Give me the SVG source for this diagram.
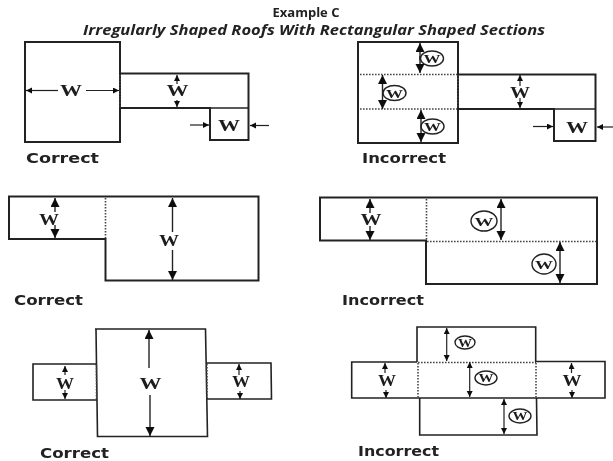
<svg xmlns="http://www.w3.org/2000/svg" width="613" height="461" viewBox="0 0 613 461">
<style>
.bg{fill:#fff}
.o{fill:none;stroke:#222;stroke-width:2;stroke-linejoin:miter}
.t{fill:none;stroke:#222;stroke-width:1.6}
.d{fill:none;stroke:#444;stroke-width:1.6;stroke-dasharray:1.6 1.4}
.a{fill:none;stroke:#222;stroke-width:1.4;marker-end:url(#h)}
.s{fill:none;stroke:#222;stroke-width:1.2;marker-end:url(#hs)}
.e{fill:#fff;stroke:#222;stroke-width:1.4}
.w{font-family:"Liberation Serif",serif;font-weight:700;font-size:16px;fill:#1c1c1c;text-anchor:middle}
.we{font-family:"Liberation Serif",serif;font-weight:700;font-size:12px;fill:#1c1c1c;text-anchor:middle}
.l{font-family:"DejaVu Sans",sans-serif;font-weight:700;font-size:14.5px;fill:#222}
.h{font-family:"Open Sans",sans-serif;font-weight:700;fill:#222;text-anchor:middle}
</style>
<defs>
<marker id="h" markerUnits="userSpaceOnUse" markerWidth="10" markerHeight="10" refX="9" refY="4.5" orient="auto"><path d="M0 0L9 4.500L0 9Z" fill="#111"/></marker>
<marker id="hs" markerUnits="userSpaceOnUse" markerWidth="7" markerHeight="7" refX="6" refY="3" orient="auto"><path d="M0 0L6 3L0 6Z" fill="#111"/></marker>
<filter id="soft" filterUnits="userSpaceOnUse" x="0" y="0" width="613" height="461"><feGaussianBlur stdDeviation="0.45"/></filter>
</defs>
<rect class="bg" width="613" height="461"/>
<g filter="url(#soft)">
<g id="title">
<text class="h" x="306" y="16.500" font-size="13">Example C</text>
<text class="h" x="314" y="35" font-size="14" font-style="italic" textLength="462" lengthAdjust="spacingAndGlyphs">Irregularly Shaped Roofs With Rectangular Shaped Sections</text>
</g>

<g id="panel-top-left">
<path class="o" d="M25 42H120V142H25Z"/>
<path class="o" d="M120 73.500H248.500V140H210V108H120"/>
<path class="t" d="M210 108H248"/>
<path class="d" d="M120 75V107"/>
<text class="w" x="71" y="96" textLength="22" lengthAdjust="spacingAndGlyphs">W</text>
<text class="w" x="177.500" y="96" textLength="22" lengthAdjust="spacingAndGlyphs">W</text>
<text class="w" x="229" y="131" textLength="22" lengthAdjust="spacingAndGlyphs">W</text>
<text class="l" x="26" y="163" textLength="73" lengthAdjust="spacingAndGlyphs">Correct</text>
</g>

<g id="panel-top-right">
<path class="o" d="M358 42H458V143H358Z"/>
<path class="o" d="M458 74.500H595.500V141H554V109H458"/>
<path class="t" d="M554 109H595"/>
<path class="d" d="M360 74.500H457M360 109H457M458 75V108"/>
<ellipse class="e" cx="432" cy="58.500" rx="11.500" ry="7.500"/>
<ellipse class="e" cx="394.500" cy="93" rx="11.500" ry="7.500"/>
<ellipse class="e" cx="432.500" cy="126.500" rx="11.500" ry="7.500"/>
<text class="we" x="432" y="63" textLength="17" lengthAdjust="spacingAndGlyphs">W</text>
<text class="we" x="394.500" y="97.500" textLength="17" lengthAdjust="spacingAndGlyphs">W</text>
<text class="we" x="432.500" y="131" textLength="17" lengthAdjust="spacingAndGlyphs">W</text>
<text class="w" x="520" y="98" textLength="20" lengthAdjust="spacingAndGlyphs">W</text>
<text class="w" x="577" y="133" textLength="22" lengthAdjust="spacingAndGlyphs">W</text>
<text class="l" x="362" y="163" textLength="84" lengthAdjust="spacingAndGlyphs">Incorrect</text>
</g>

<g id="panel-middle-left">
<path class="o" d="M9 196.500H258.500V280.500H105.500V239H9Z"/>
<path class="d" d="M105.500 198V238"/>
<text class="w" x="49" y="225" textLength="20" lengthAdjust="spacingAndGlyphs">W</text>
<text class="w" x="169" y="246" textLength="20" lengthAdjust="spacingAndGlyphs">W</text>
<text class="l" x="14" y="305" font-size="13" textLength="69" lengthAdjust="spacingAndGlyphs">Correct</text>
</g>

<g id="panel-middle-right">
<path class="o" d="M320 197.500H597V284H426V240.500H320Z"/>
<path class="d" d="M426.500 199V240M427 241.500H596"/>
<ellipse class="e" cx="484" cy="221" rx="13" ry="10"/>
<ellipse class="e" cx="544" cy="264" rx="12" ry="10"/>
<text class="w" x="371" y="225" textLength="21" lengthAdjust="spacingAndGlyphs">W</text>
<text class="we" x="484" y="225.500" textLength="19" lengthAdjust="spacingAndGlyphs">W</text>
<text class="we" x="544" y="268.500" textLength="18" lengthAdjust="spacingAndGlyphs">W</text>
<text class="l" x="342" y="305" font-size="13" textLength="82" lengthAdjust="spacingAndGlyphs">Incorrect</text>
</g>

<g id="panel-bottom-left">
<path class="t" d="M95 329H205.500L207.500 436.500H97.500L96 329"/>
<path class="t" d="M96 364H33V400H97"/>
<path class="t" d="M206 363H271L271.500 399H207"/>
<path class="d" d="M96.500 365V399M207 364V398"/>
<text class="w" x="65" y="389" textLength="18" lengthAdjust="spacingAndGlyphs">W</text>
<text class="w" x="150.500" y="389" font-size="19" textLength="22" lengthAdjust="spacingAndGlyphs">W</text>
<text class="w" x="241" y="387" textLength="18" lengthAdjust="spacingAndGlyphs">W</text>
<text class="l" x="40" y="458" textLength="69" lengthAdjust="spacingAndGlyphs">Correct</text>
</g>

<g id="panel-bottom-right">
<path class="t" d="M417 362V327H535.700V362"/>
<path class="t" d="M417 362H351.700V398H605V361.500H536"/>
<path class="t" d="M419.700 398V435H537L536.500 398"/>
<path class="d" d="M418 362.500H536M418 363V397M536 363V397"/>
<ellipse class="e" cx="465" cy="342.500" rx="10" ry="6.500"/>
<ellipse class="e" cx="486" cy="378" rx="11" ry="7"/>
<ellipse class="e" cx="520" cy="416" rx="11" ry="7"/>
<text class="we" x="465" y="346.500" font-size="11" textLength="14" lengthAdjust="spacingAndGlyphs">W</text>
<text class="we" x="486" y="382" font-size="11" textLength="15" lengthAdjust="spacingAndGlyphs">W</text>
<text class="we" x="520" y="420" font-size="11" textLength="15" lengthAdjust="spacingAndGlyphs">W</text>
<text class="w" x="387" y="386" textLength="18" lengthAdjust="spacingAndGlyphs">W</text>
<text class="w" x="572" y="386" textLength="19" lengthAdjust="spacingAndGlyphs">W</text>
<text class="l" x="358" y="456" textLength="81" lengthAdjust="spacingAndGlyphs">Incorrect</text>
</g>

<g id="connectors">
<path class="s" d="M58 90.500H26"/><path class="s" d="M86 90.500H119"/>
<path class="s" d="M177 84V75"/><path class="s" d="M177 100V107"/>
<path class="s" d="M190 125H209"/><path class="s" d="M269 125.500H250"/>
<path class="a" d="M420 60V43"/><path class="a" d="M420 56V73"/>
<path class="a" d="M382.500 92V75"/><path class="a" d="M382.500 92V109"/>
<path class="a" d="M421 126V110"/><path class="a" d="M421 126V142"/>
<path class="s" d="M520 86V75"/><path class="s" d="M520 98V108"/>
<path class="s" d="M533 126.500H553"/><path class="s" d="M613 127H597"/>
<path class="a" d="M55 212V198"/><path class="a" d="M55 225V238"/>
<path class="a" d="M172.500 232V198"/><path class="a" d="M172.500 250V280"/>
<path class="a" d="M370 213V199"/><path class="a" d="M370 226V240"/>
<path class="a" d="M501 220V199"/><path class="a" d="M501 220V240"/>
<path class="a" d="M560 262V242"/><path class="a" d="M560 262V283"/>
<path class="s" d="M65 375V366"/><path class="s" d="M65 390V399"/>
<path class="a" d="M149 368V330"/><path class="a" d="M150 395V436"/>
<path class="s" d="M239 375V364"/><path class="s" d="M240 391V399"/>
<path class="s" d="M385 373V363"/><path class="s" d="M386 390V398"/>
<path class="s" d="M571.500 373V363"/><path class="s" d="M572 390V398"/>
<path class="s" d="M446.700 344V328"/><path class="s" d="M446.700 344V361"/>
<path class="s" d="M469.700 380V362"/><path class="s" d="M469.700 380V397"/>
<path class="s" d="M504 416V399"/><path class="s" d="M504 416V434"/>
</g>
</g>
</svg>
